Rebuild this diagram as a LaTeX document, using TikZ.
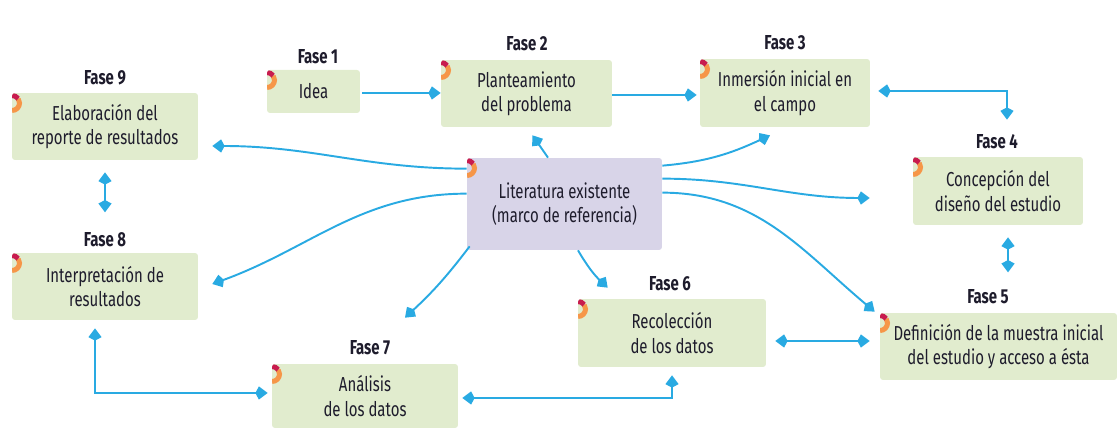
\documentclass[tikz,border=0pt]{standalone}
\usepackage{fontspec}
\setmainfont[FakeStretch=0.74]{Fira Sans}
\usetikzlibrary{arrows.meta,calc}
\definecolor{fasegreen}{RGB}{225,236,206}
\definecolor{litpurple}{RGB}{216,212,232}
\definecolor{linkblue}{RGB}{41,170,226}
\definecolor{markred}{RGB}{200,28,78}
\definecolor{markorange}{RGB}{246,150,72}
\definecolor{textdark}{RGB}{30,28,44}
\tikzset{
  corner mark/.style={path picture={
      \draw[x=1cm,y=1cm,line width=0.1cm,markorange] ([yshift=-0.2cm]path picture bounding box.north west) ++(0,-0.15) arc[start angle=-90,end angle=35,radius=0.15];
      \draw[x=1cm,y=1cm,line width=0.1cm,markred] ([yshift=-0.2cm]path picture bounding box.north west) ++(35:0.15) arc[start angle=35,end angle=90,radius=0.15];
  }},
  fase/.style={fill=fasegreen, rounded corners=0.06cm, inner sep=0pt, align=center,
    text=textdark, font=\fontsize{11.5}{13.8}\selectfont, corner mark},
  fasetitle/.style={text=textdark, inner sep=1pt, font=\bfseries\fontsize{11.5}{13.8}\selectfont},
  link/.style={draw=linkblue, line width=1.1pt, -{Kite[length=7pt,width=7.5pt,inset=2pt]}},
  twoway/.style={link, {Kite[length=7pt,width=7.5pt,inset=2pt]}-{Kite[length=7pt,width=7.5pt,inset=2pt]}}
}
\begin{document}
\begin{tikzpicture}[x=0.02cm,y=-0.02cm]
    \useasboundingbox (0,0) rectangle (1117,428);
    \node[fase, minimum width=3.72cm, minimum height=1.34cm] (f9) at (105,126.5) {Elaboración del\\reporte de resultados};
    \node[fasetitle] (t9) at (105,78) {Fase 9};
    \node[fase, minimum width=1.86cm, minimum height=0.86cm] (f1) at (313.5,91.5) {Idea};
    \node[fasetitle] (t1) at (318,57) {Fase 1};
    \node[fase, minimum width=3.42cm, minimum height=1.34cm] (f2) at (526.5,93.5) {Planteamiento\\del problema};
    \node[fasetitle] (t2) at (527,44) {Fase 2};
    \node[fase, minimum width=3.4cm, minimum height=1.36cm] (f3) at (785,93) {Inmersión inicial en\\el campo};
    \node[fasetitle] (t3) at (785,43) {Fase 3};
    \node[fase, minimum width=3.4cm, minimum height=1.36cm] (f4) at (998,191) {Concepción del\\diseño del estudio};
    \node[fasetitle] (t4) at (997,142) {Fase 4};
    \node[fase, fill=litpurple, minimum width=3.9cm, minimum height=1.84cm] (lit) at (564.5,204) {Literatura existente\\(marco de referencia)};
    \node[fase, minimum width=3.72cm, minimum height=1.34cm] (f8) at (105,286.5) {Interpretación de\\resultados};
    \node[fasetitle] (t8) at (105,240) {Fase 8};
    \node[fase, minimum width=3.76cm, minimum height=1.36cm] (f6) at (672,333) {Recolección\\de los datos};
    \node[fasetitle] (t6) at (670,284) {Fase 6};
    \node[fase, minimum width=4.74cm, minimum height=1.34cm] (f5) at (998.5,346.5) {Definición de la muestra inicial\\del estudio y acceso a ésta};
    \node[fasetitle] (t5) at (988,297) {Fase 5};
    \node[fase, minimum width=3.72cm, minimum height=1.28cm] (f7) at (365,396) {Análisis\\de los datos};
    \node[fasetitle] (t7) at (370,348) {Fase 7};

    \draw[link] ([xshift=0.04cm,yshift=-0.03cm]f1.east) -- ([yshift=-0.03cm]f1.east -| f2.west);
    \draw[link] ([yshift=-0.03cm]f2.east) -- ([yshift=-0.03cm,xshift=-0.06cm]f2.east -| f3.west);
    \draw[twoway] ([xshift=0.16cm,yshift=0.04cm]f3.east) -| ([xshift=0.18cm,yshift=0.74cm]f4.north);
    \draw[twoway] ([xshift=0.2cm,yshift=-0.24cm]f4.south) -- ([xshift=0.2cm,yshift=-0.94cm]f4.south);
    \draw[twoway] ([xshift=0.18cm,yshift=-0.16cm]f6.east) -- ([xshift=-0.2cm,yshift=-0.16cm]f6.east -| f5.west);
    \draw[twoway] ([xshift=0.08cm,yshift=-0.04cm]f7.east) -| ([yshift=-0.16cm]f6.south);
    \draw[twoway] ([xshift=-0.2cm,yshift=-0.16cm]f8.south) |- ([xshift=-0.08cm,yshift=0.06cm]f7.west);
    \draw[twoway] ([yshift=-0.24cm]f9.south) -- ([yshift=-1.04cm]f9.south);

    \draw[link] ([xshift=-0.33cm]lit.north) -- ([xshift=0.12cm,yshift=-0.16cm]f2.south);
    \draw[link] ([yshift=-0.16cm]lit.north east) to[out=5,in=205] ([xshift=-0.3cm,yshift=-0.16cm]f3.south);
    \draw[link] ([yshift=-0.42cm]lit.north east) to[out=0,in=180] ([xshift=-0.86cm,yshift=-0.14cm]f4.west);
    \draw[link] ([yshift=-0.7cm]lit.north east) to[out=0,in=140] ([xshift=-0.1cm,yshift=0.02cm]f5.north west);
    \draw[link] ([xshift=0.27cm]lit.south) to[bend right=8] ([xshift=0.6cm,yshift=0.22cm]f6.north west);
    \draw[link] ([xshift=0.06cm,yshift=0.08cm]lit.south west) to[bend left=5] ([xshift=0.8cm,yshift=0.92cm]f7.north);
    \draw[link] ([yshift=-0.72cm]lit.north west) to[out=180,in=20] ([xshift=0.28cm,yshift=0.05cm]f8.east);
    \draw[link] ([yshift=-0.22cm]lit.north west) to[out=180,in=0] ([xshift=0.28cm,yshift=-0.39cm]f9.east);
\end{tikzpicture}
\end{document}
